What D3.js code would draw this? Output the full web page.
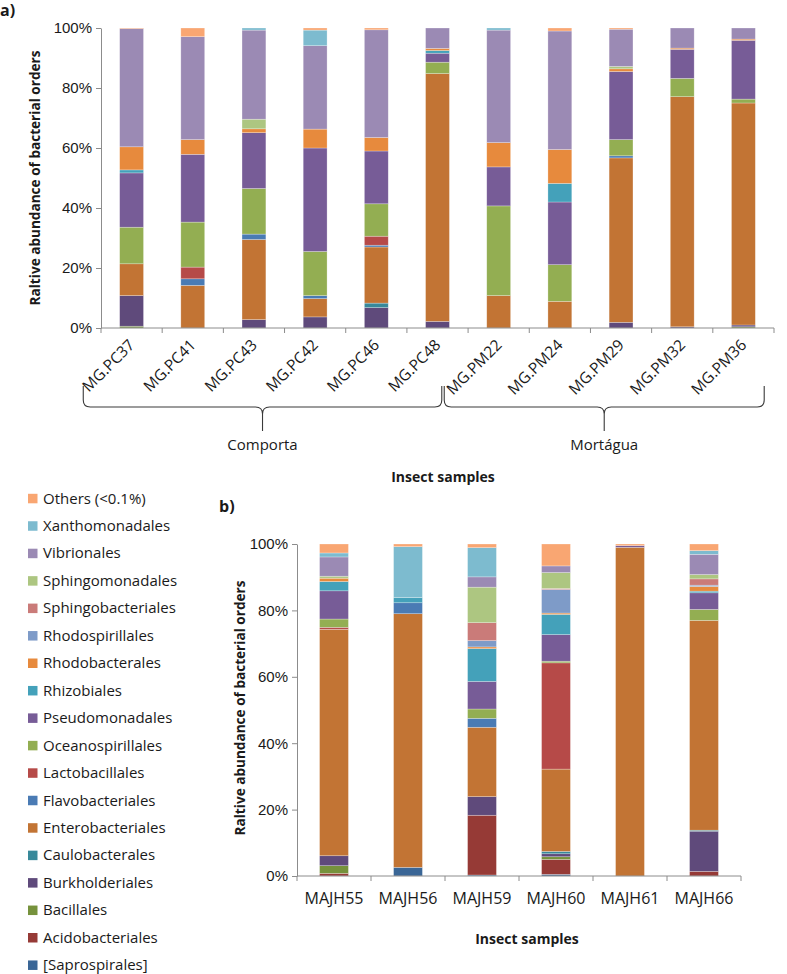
<!DOCTYPE html>
<html>
<head>
<meta charset="utf-8">
<script src="https://cdn.jsdelivr.net/npm/d3@7"></script>
<style>
  html, body { margin: 0; padding: 0; background: #fff; }
  svg { display: block; font-family: "Open Sans", "DejaVu Sans", sans-serif; }
</style>
</head>
<body>
<svg id="chart" width="787" height="974"></svg>
<script>
// ---------- DATA ----------
// Stack order (bottom -> top)
const orders = [
  "[Saprospirales]", "Acidobacteriales", "Bacillales", "Burkholderiales", "Caulobacterales",
  "Enterobacteriales", "Flavobacteriales", "Lactobacillales", "Oceanospirillales", "Pseudomonadales",
  "Rhizobiales", "Rhodobacterales", "Rhodospirillales", "Sphingobacteriales", "Sphingomonadales",
  "Vibrionales", "Xanthomonadales", "Others (<0.1%)"
];
const orderColors = [
  "#3A6696", "#963A36", "#76923C", "#5F4A7B", "#38899A",
  "#C27434", "#4A7BB4", "#B64A48", "#93AE52", "#775C97",
  "#44A1BA", "#E78A3D", "#7E9BC8", "#CA7B79", "#ADC681",
  "#9B8AB4", "#7DBBCF", "#F9A672"
];

const samplesA = ["MG.PC37", "MG.PC41", "MG.PC43", "MG.PC42", "MG.PC46", "MG.PC48",
                  "MG.PM22", "MG.PM24", "MG.PM29", "MG.PM32", "MG.PM36"];
// one row per sample, values (%) in the order of `orders`
const valuesA = [
  [0, 0, 0.6, 10.2, 0, 10.6, 0, 0, 12.2, 18.1, 1.0, 7.7, 0, 0, 0, 39.4, 0, 0.2],
  [0, 0, 0, 0, 0, 14.2, 2.2, 3.9, 15.0, 22.6, 0, 4.9, 0, 0, 0, 34.3, 0, 2.9],
  [0, 0, 0, 2.8, 0, 26.7, 1.8, 0, 15.2, 18.6, 0, 1.3, 0, 0, 3.2, 29.7, 0.7, 0],
  [0, 0, 0, 3.7, 0, 6.1, 1.0, 0, 14.7, 34.5, 0, 6.3, 0, 0, 0, 27.8, 5.2, 0.7],
  [0, 0, 0, 6.8, 1.5, 18.7, 0.6, 3.0, 10.8, 17.6, 0, 4.5, 0, 0, 0, 35.9, 0, 0.6],
  [0, 0, 0, 2.2, 0, 82.6, 0, 0, 3.8, 3.0, 0.9, 0.7, 0, 0, 0, 6.8, 0, 0],
  [0, 0, 0, 0, 0, 10.8, 0, 0, 29.9, 13.0, 0, 8.1, 0, 0, 0, 37.5, 0.7, 0],
  [0, 0, 0, 0, 0, 8.9, 0, 0, 12.2, 20.9, 6.2, 11.3, 0, 0, 0, 39.5, 0, 1.0],
  [0, 0, 0, 1.9, 0, 54.8, 0.7, 0, 5.4, 22.7, 0, 0.9, 0, 0, 0.8, 12.4, 0, 0.4],
  [0, 0, 0, 0.4, 0, 76.7, 0, 0, 6.1, 9.7, 0, 0.4, 0, 0, 0, 6.7, 0, 0],
  [0, 0, 0.4, 0.6, 0, 74.0, 0, 0, 1.3, 19.6, 0, 0.4, 0, 0, 0, 3.7, 0, 0]
];
const groupsA = ["Comporta", "Mortágua"];

const samplesB = ["MAJH55", "MAJH56", "MAJH59", "MAJH60", "MAJH61", "MAJH66"];
const valuesB = [
  [0, 0.8, 2.3, 3.0, 0, 68.2, 0, 0.6, 2.5, 8.5, 2.8, 1.0, 0, 0, 0.6, 5.8, 1.2, 2.7],
  [2.6, 0, 0, 0, 0, 76.4, 3.3, 0, 0, 0, 1.6, 0, 0, 0, 0, 0, 15.3, 0.8],
  [0.3, 18.0, 0, 5.6, 0, 20.9, 2.7, 0, 2.8, 8.3, 9.9, 0.5, 1.9, 5.4, 10.7, 3.1, 8.8, 1.1],
  [0.5, 4.5, 0.8, 0.9, 0.7, 24.8, 0, 32.0, 0.5, 8.0, 6.1, 0.4, 7.1, 0.3, 4.8, 2.0, 0, 6.6],
  [0, 0, 0, 0, 0, 99.0, 0, 0, 0, 0.5, 0, 0, 0, 0, 0, 0, 0, 0.5],
  [0, 1.4, 0, 12.1, 0.3, 63.2, 0, 0, 3.3, 5.0, 0.5, 1.4, 0.4, 1.9, 1.3, 6.1, 1.1, 2.0]
];

const yTickValues = [0, 0.2, 0.4, 0.6, 0.8, 1.0];
const yTitle = "Raltive abundance of bacterial orders";
const xTitle = "Insect samples";

// ---------- DRAWING ----------
const svg = d3.select("#chart");
const color = d3.scaleOrdinal().domain(orders).range(orderColors);
const axisColor = "#8c8c8c";
const textColor = "#1a1a1a";

function toTable(samples, values) {
  return samples.map((s, i) => {
    const row = { sample: s };
    orders.forEach((o, j) => { row[o] = values[i][j]; });
    return row;
  });
}
const stack = d3.stack().keys(orders).offset(d3.stackOffsetExpand);

function drawPanel(opts) {
  const { samples, values, x0, x1, yTop, yBottom, barFrac } = opts;
  const g = svg.append("g");
  const x = d3.scaleBand().domain(samples).range([x0, x1]).paddingInner(0).paddingOuter(0);
  const y = d3.scaleLinear().domain([0, 1]).range([yBottom, yTop]);
  const bw = x.step() * barFrac;
  const series = stack(toTable(samples, values));

  g.selectAll("g.layer").data(series).join("g")
    .attr("class", "layer")
    .attr("fill", d => color(d.key))
    .selectAll("rect").data(d => d.filter(p => p[1] - p[0] > 0)).join("rect")
    .attr("x", d => x(d.data.sample) + (x.step() - bw) / 2)
    .attr("width", bw)
    .attr("y", d => y(d[1]))
    .attr("height", d => y(d[0]) - y(d[1]))
    .attr("stroke", "rgba(255,255,255,0.45)")
    .attr("stroke-width", 0.6);

  // y axis
  const ya = g.append("g").attr("transform", `translate(${x0},0)`)
    .call(d3.axisLeft(y).tickValues(yTickValues).tickFormat(d3.format(".0%")).tickSize(5).tickSizeOuter(0).tickPadding(4));
  ya.select(".domain").attr("stroke", axisColor);
  ya.selectAll(".tick line").attr("stroke", axisColor);
  ya.selectAll(".tick text").attr("fill", textColor).style("font-size", "15px");

  // x axis line + ticks at band boundaries
  g.append("line").attr("x1", x0).attr("x2", x1).attr("y1", yBottom).attr("y2", yBottom)
    .attr("stroke", axisColor);
  const bounds = samples.map(s => x(s)).concat([x(samples[samples.length - 1]) + x.step()]);
  g.selectAll("line.xt").data(bounds).join("line").attr("class", "xt")
    .attr("x1", d => d).attr("x2", d => d).attr("y1", yBottom).attr("y2", yBottom + 5)
    .attr("stroke", axisColor);
  return { g, x, y };
}

// ---- Panel a ----
const A = drawPanel({ samples: samplesA, values: valuesA, x0: 101, x1: 774, yTop: 28, yBottom: 328, barFrac: 0.39 });
A.g.selectAll("text.xl").data(samplesA).join("text").attr("class", "xl")
  .attr("transform", d => `translate(${A.x(d) + A.x.step() / 2 + 4},${346}) rotate(-45)`)
  .attr("text-anchor", "end")
  .attr("fill", textColor)
  .style("font-size", "15.5px")
  .text(d => d);

// braces
function bracePath(xa, xb, yTopB, yMid, yTip) {
  const xc = (xa + xb) / 2;
  const r = 7;
  return `M${xa},${yTopB} L${xa},${yMid - r} Q${xa},${yMid} ${xa + r},${yMid} ` +
         `L${xc - r},${yMid} Q${xc},${yMid} ${xc},${yMid + r} L${xc},${yTip} ` +
         `M${xc},${yMid + r} Q${xc},${yMid} ${xc + r},${yMid} ` +
         `L${xb - r},${yMid} Q${xb},${yMid} ${xb},${yMid - r} L${xb},${yTopB}`;
}
const stepA = A.x.step();
const bandPx = i => 101 + i * stepA;
const braceEdges = [[bandPx(-0.29), bandPx(5.57)], [bandPx(5.61), bandPx(10.84)]];
groupsA.forEach((name, i) => {
  const [xa, xb] = braceEdges[i];
  A.g.append("path").attr("d", bracePath(xa, xb, 386, 407, 431))
    .attr("fill", "none").attr("stroke", "#3a3a3a").attr("stroke-width", 1.1);
  A.g.append("text").attr("x", (xa + xb) / 2).attr("y", 450)
    .attr("text-anchor", "middle").attr("fill", textColor).style("font-size", "15px").text(name);
});

svg.append("text").attr("x", 443).attr("y", 482).attr("text-anchor", "middle")
  .attr("fill", textColor).style("font-size", "14px").style("font-weight", "bold").text(xTitle);
svg.append("text").attr("transform", "translate(40,178) rotate(-90)").attr("text-anchor", "middle")
  .attr("fill", textColor).style("font-size", "13.6px").style("font-weight", "bold").text(yTitle);
svg.append("text").attr("x", 0).attr("y", 16).attr("fill", textColor)
  .style("font-size", "16px").style("font-weight", "bold").text("a)");

// ---- Panel b ----
const B = drawPanel({ samples: samplesB, values: valuesB, x0: 297, x1: 741, yTop: 544, yBottom: 876, barFrac: 0.39 });
B.g.selectAll("text.xl").data(samplesB).join("text").attr("class", "xl")
  .attr("x", d => B.x(d) + B.x.step() / 2).attr("y", 904)
  .attr("text-anchor", "middle").attr("fill", textColor).style("font-size", "16px").text(d => d);
svg.append("text").attr("x", 527).attr("y", 944).attr("text-anchor", "middle")
  .attr("fill", textColor).style("font-size", "14px").style("font-weight", "bold").text(xTitle);
svg.append("text").attr("transform", "translate(245,708) rotate(-90)").attr("text-anchor", "middle")
  .attr("fill", textColor).style("font-size", "13.6px").style("font-weight", "bold").text(yTitle);
svg.append("text").attr("x", 219).attr("y", 512).attr("fill", textColor)
  .style("font-size", "16px").style("font-weight", "bold").text("b)");

// ---- Legend ----
const legendOrders = orders.slice().reverse();
const leg = svg.append("g").selectAll("g").data(legendOrders).join("g")
  .attr("transform", (d, i) => `translate(28,${498.3 + i * 27.45})`);
leg.append("rect").attr("x", 0).attr("y", -4.5).attr("width", 9.5).attr("height", 9.5).attr("fill", d => color(d));
leg.append("text").attr("x", 15).attr("y", 0).attr("dy", "0.35em").attr("fill", textColor)
  .style("font-size", "15px").text(d => d);
</script>
</body>
</html>
